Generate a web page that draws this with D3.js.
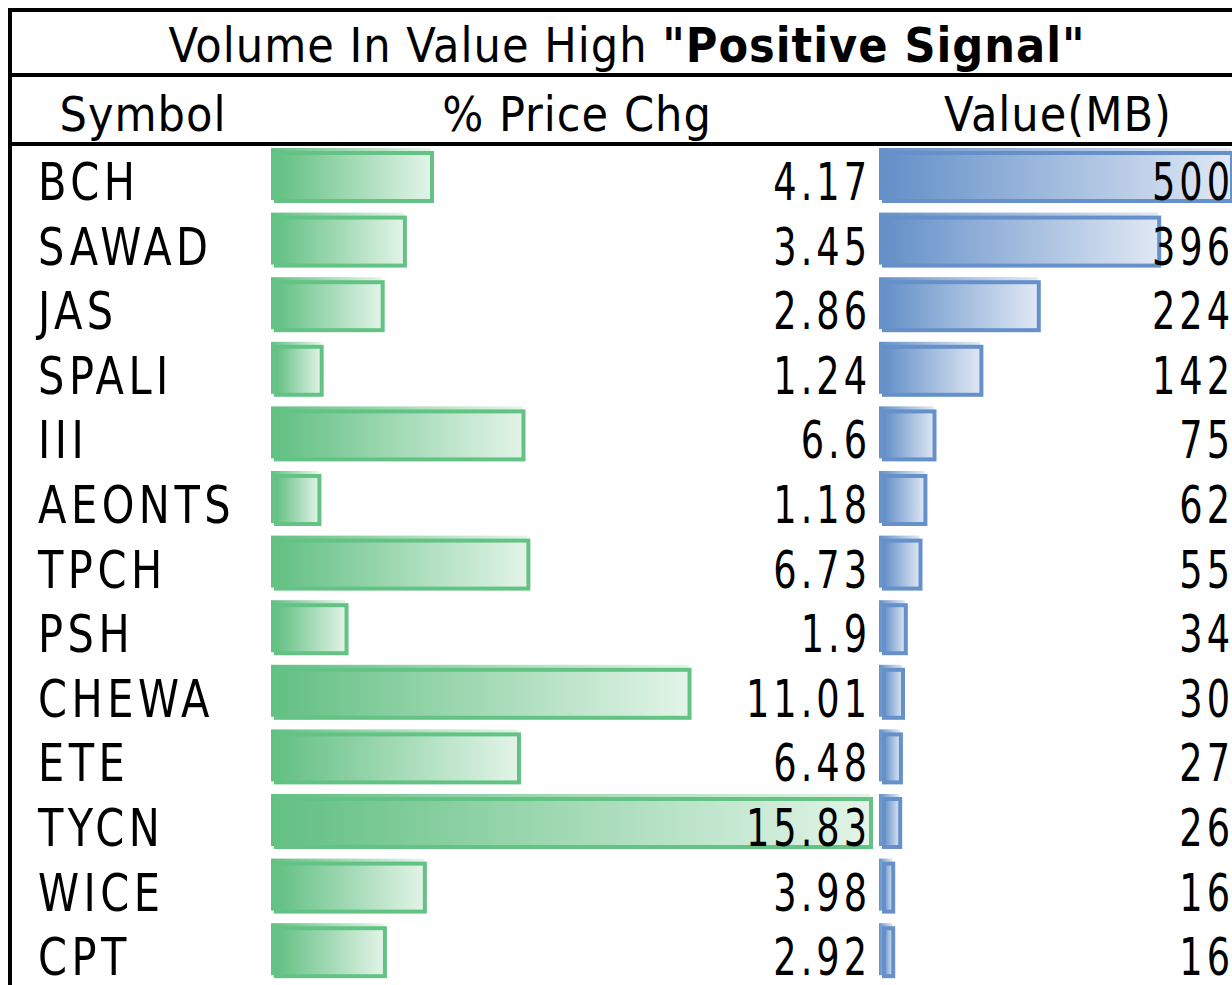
<!DOCTYPE html>
<html>
<head>
<meta charset="utf-8">
<script src="https://cdn.jsdelivr.net/npm/d3@7"></script>
<style>
  html, body { margin: 0; padding: 0; background: #fff; }
  svg { display: block; }
  text { font-family: "Liberation Sans Narrow", "DejaVu Sans Condensed", "Liberation Sans", sans-serif; fill: #000; }
</style>
</head>
<body>
<svg id="chart"></svg>
<script>
const symbols = ["BCH", "SAWAD", "JAS", "SPALI", "III", "AEONTS", "TPCH", "PSH", "CHEWA", "ETE", "TYCN", "WICE", "CPT"];
const priceChg = [4.17, 3.45, 2.86, 1.24, 6.6, 1.18, 6.73, 1.9, 11.01, 6.48, 15.83, 3.98, 2.92];
const valueMB = [500, 396, 224, 142, 75, 62, 55, 34, 30, 27, 26, 16, 16];
const priceLabels = ["4.17", "3.45", "2.86", "1.24", "6.6", "1.18", "6.73", "1.9", "11.01", "6.48", "15.83", "3.98", "2.92"];
const headers = ["Symbol", "% Price Chg", "Value(MB)"];

const width = 1232, height = 985;
const rows = symbols.map((s, i) => ({ sym: s, chg: priceChg[i], chgLabel: priceLabels[i], val: valueMB[i] }));

const svg = d3.select("#chart").attr("width", width).attr("height", height);
svg.append("rect").attr("width", width).attr("height", height).attr("fill", "#fff");

const defs = svg.append("defs");
function grad(id, c0, c1) {
  const g = defs.append("linearGradient").attr("id", id)
    .attr("x1", 0).attr("x2", 1).attr("y1", 0).attr("y2", 0);
  g.append("stop").attr("offset", 0).attr("stop-color", c0);
  g.append("stop").attr("offset", 1).attr("stop-color", c1);
}
grad("gGreen", "#63c083", "#e3f4e8");
grad("gBlue", "#6490c8", "#e0e8f4");

const y = d3.scaleBand().domain(symbols).range([145, 145 + 64.6 * symbols.length]);
const xChg = d3.scaleLinear().domain([0, d3.max(priceChg)]).range([3, 599]);
const xVal = d3.scaleLinear().domain([0, d3.max(valueMB)]).range([2, 352]);

const chgX0 = 271, valX0 = 879, barH = 52;

function bars(cls, x0, xs, key, fillId, stroke) {
  const g = svg.append("g").attr("class", cls);
  const b = g.selectAll("g").data(rows).enter().append("g")
    .attr("transform", d => `translate(${x0},${y(d.sym) + 3})`);
  b.append("rect")
    .attr("width", d => xs(d[key]))
    .attr("height", barH)
    .attr("fill", `url(#${fillId})`);
  b.append("rect")
    .attr("x", 5).attr("y", 5)
    .attr("width", d => Math.max(xs(d[key]) - 4, 1))
    .attr("height", barH - 4)
    .attr("fill", `url(#${fillId})`)
    .attr("stroke", stroke)
    .attr("stroke-width", 4);
}
bars("chg", chgX0, xChg, "chg", "gGreen", "#63c384");
bars("val", valX0, xVal, "val", "gBlue", "#6690c9");

// cell texts, squeezed and spaced out like the narrow sheet font
const fs = 51;
const symScale = 0.905, symLs = 5;
const numScale = 0.8, numLs = 5;
const txt = svg.append("g");
txt.selectAll(".sym").data(rows).enter().append("text")
  .attr("transform", d => `translate(38,${y(d.sym) + 55}) scale(${symScale},1)`)
  .attr("font-size", fs).attr("letter-spacing", symLs)
  .text(d => d.sym);
txt.selectAll(".chg").data(rows).enter().append("text")
  .attr("transform", d => `translate(${867 + numLs * numScale},${y(d.sym) + 55}) scale(${numScale},1)`)
  .attr("text-anchor", "end")
  .attr("font-size", fs).attr("letter-spacing", numLs)
  .text(d => d.chgLabel);
txt.selectAll(".val").data(rows).enter().append("text")
  .attr("transform", d => `translate(${1230 + numLs * numScale},${y(d.sym) + 55}) scale(${numScale},1)`)
  .attr("text-anchor", "end")
  .attr("font-size", fs).attr("letter-spacing", numLs)
  .text(d => d.val);

// title
const title = svg.append("text")
  .attr("x", 627).attr("y", 62)
  .attr("text-anchor", "middle")
  .attr("font-size", 48).attr("letter-spacing", 1);
title.append("tspan").text("Volume In Value High ");
title.append("tspan").attr("font-weight", "bold").text("\"Positive Signal\"");

// headers
const hx = [143, 577, 1058];
svg.selectAll(".hdr").data(headers).enter().append("text")
  .attr("x", (d, i) => hx[i]).attr("y", 131)
  .attr("text-anchor", "middle")
  .attr("font-size", 48).attr("letter-spacing", 1)
  .text(d => d);

// grid lines
const line = (x1, y1, x2, y2) => svg.append("line")
  .attr("x1", x1).attr("y1", y1).attr("x2", x2).attr("y2", y2)
  .attr("stroke", "#000").attr("stroke-width", 4);
line(8, 10, width, 10);
line(8, 75, width, 75);
line(8, 144, width, 144);
line(10, 8, 10, height);
</script>
</body>
</html>
